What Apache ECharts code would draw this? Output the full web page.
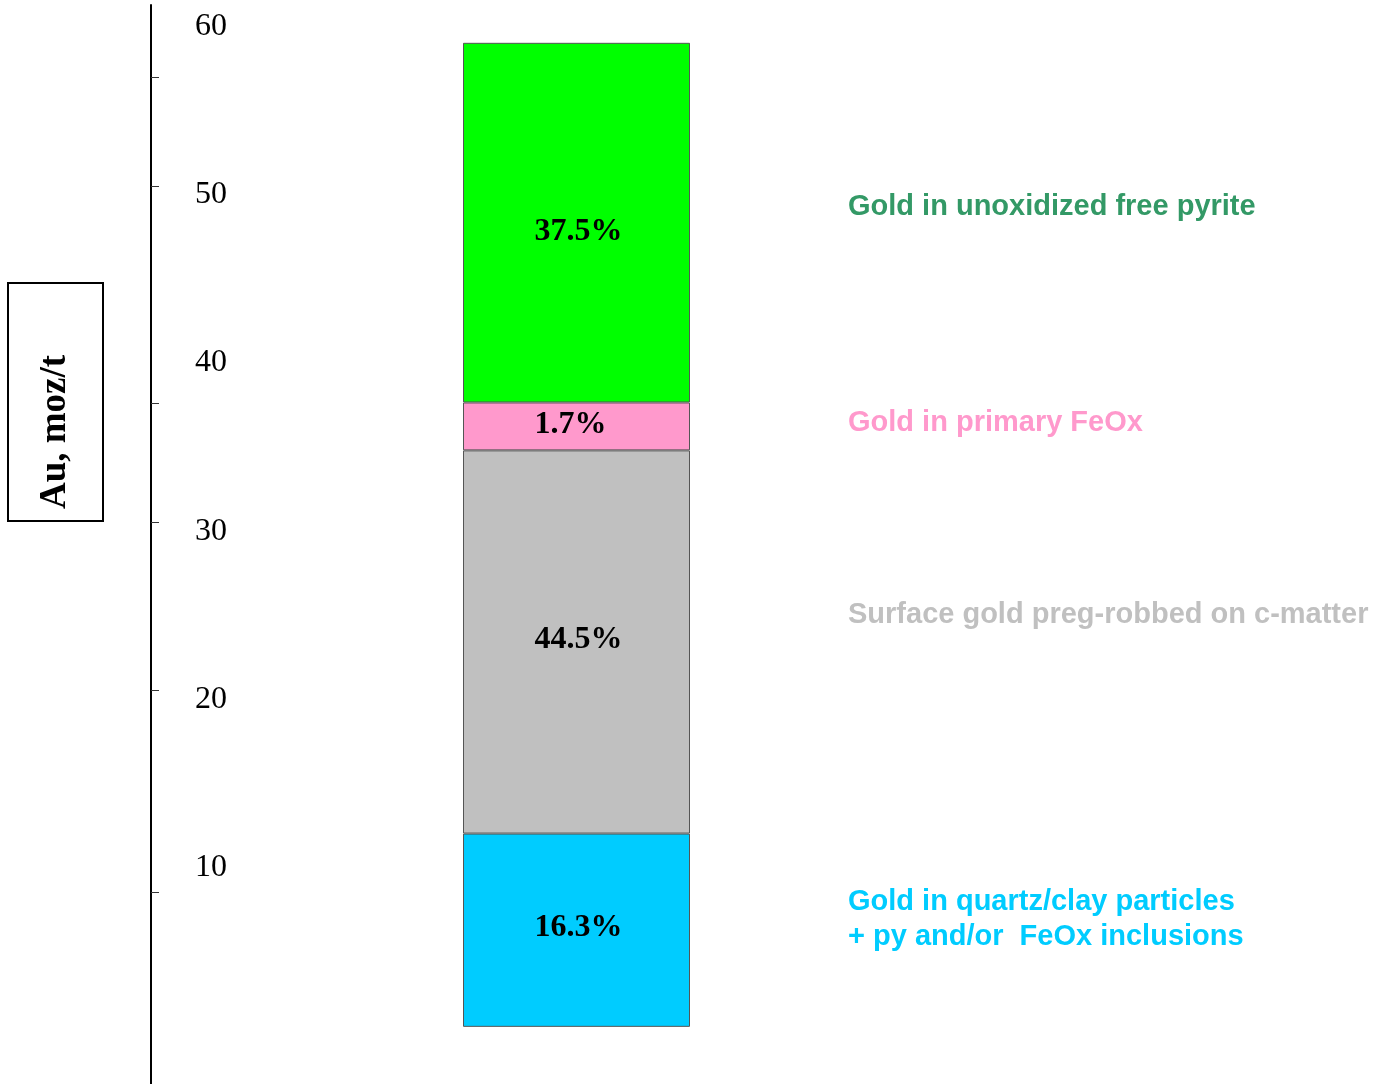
<!DOCTYPE html>
<html>
<head>
<meta charset="utf-8">
<script src="https://cdn.jsdelivr.net/npm/echarts@6/dist/echarts.min.js"></script>
<style>
html,body{margin:0;padding:0;background:#fff;}
#chart{width:1387px;height:1084px;}
</style>
</head>
<body>
<div id="chart"></div>
<script>
// ---- data ----
const categories = ['Au'];
const seriesNames = [
  'Gold in quartz/clay particles\n+ py and/or  FeOx inclusions',
  'Surface gold preg-robbed on c-matter',
  'Gold in primary FeOx',
  'Gold in unoxidized free pyrite'
];
const quartzValues = [11.5];
const surfaceValues = [22.8];
const feoxValues = [2.85];
const pyriteValues = [21.4];
const percentLabels = ['16.3%', '44.5%', '1.7%', '37.5%'];
const yLabelValues = [10, 20, 30, 40, 50, 60];
const yTickValues = [8, 20, 30, 37.1, 50, 56.5];
const axisTitle = 'Au, moz/t';

const fills = ['#00CCFF', '#C0C0C0', '#FF99CC', '#00FF00'];
const textColors = ['#00CCFF', '#C0C0C0', '#FF99CC', '#339966'];
const legendTops = [884, 597, 405, 189];
const labelOffsets = [[2, -2], [2, -2], [-6, -2], [2, 9]];
const valueSets = [quartzValues, surfaceValues, feoxValues, pyriteValues];

const chart = echarts.init(document.getElementById('chart'), null, {renderer: 'canvas'});

const series = seriesNames.map((name, i) => ({
  name: name,
  type: 'bar',
  stack: 'total',
  barWidth: 227,
  data: valueSets[i],
  itemStyle: {color: fills[i], borderColor: '#555555', borderWidth: 1},
  label: {
    show: true,
    position: 'inside',
    offset: labelOffsets[i],
    formatter: () => percentLabels[i],
    fontFamily: 'Liberation Serif',
    fontWeight: 'bold',
    fontSize: 32,
    color: '#000'
  },
  emphasis: {disabled: true}
}));

const legends = seriesNames.map((name, i) => ({
  data: [name],
  left: 843,
  top: legendTops[i],
  padding: 0,
  icon: 'none',
  itemWidth: 0,
  itemHeight: 0,
  textStyle: {
    color: textColors[i],
    fontFamily: 'Liberation Sans',
    fontWeight: 'bold',
    fontSize: 29,
    lineHeight: 35
  }
}));

chart.setOption({
  animation: false,
  backgroundColor: '#fff',
  grid: {left: 151, right: 385, top: 5, bottom: 0, containLabel: false},
  legend: legends,
  xAxis: {type: 'category', data: categories, show: false},
  yAxis: {
    type: 'value',
    min: -3.4,
    max: 60.8,
    axisLine: {show: true, lineStyle: {color: '#000', width: 2}},
    axisTick: {show: true, inside: true, length: 8, customValues: yTickValues, lineStyle: {color: '#333', width: 1}},
    axisLabel: {
      show: true,
      inside: true,
      margin: 44,
      customValues: yLabelValues,
      fontFamily: 'Liberation Serif',
      fontSize: 32,
      color: '#000',
      verticalAlign: 'top',
      lineHeight: 17
    },
    splitLine: {show: false}
  },
  graphic: [
    {type: 'rect', shape: {x: 8, y: 283, width: 95, height: 238}, style: {fill: 'none', stroke: '#000', lineWidth: 2}},
    {type: 'text', x: 55, y: 432, rotation: Math.PI / 2,
     style: {text: axisTitle, font: 'bold 37px "Liberation Serif"', fill: '#000', align: 'center', verticalAlign: 'middle'}}
  ],
  series: series
});
</script>
</body>
</html>
